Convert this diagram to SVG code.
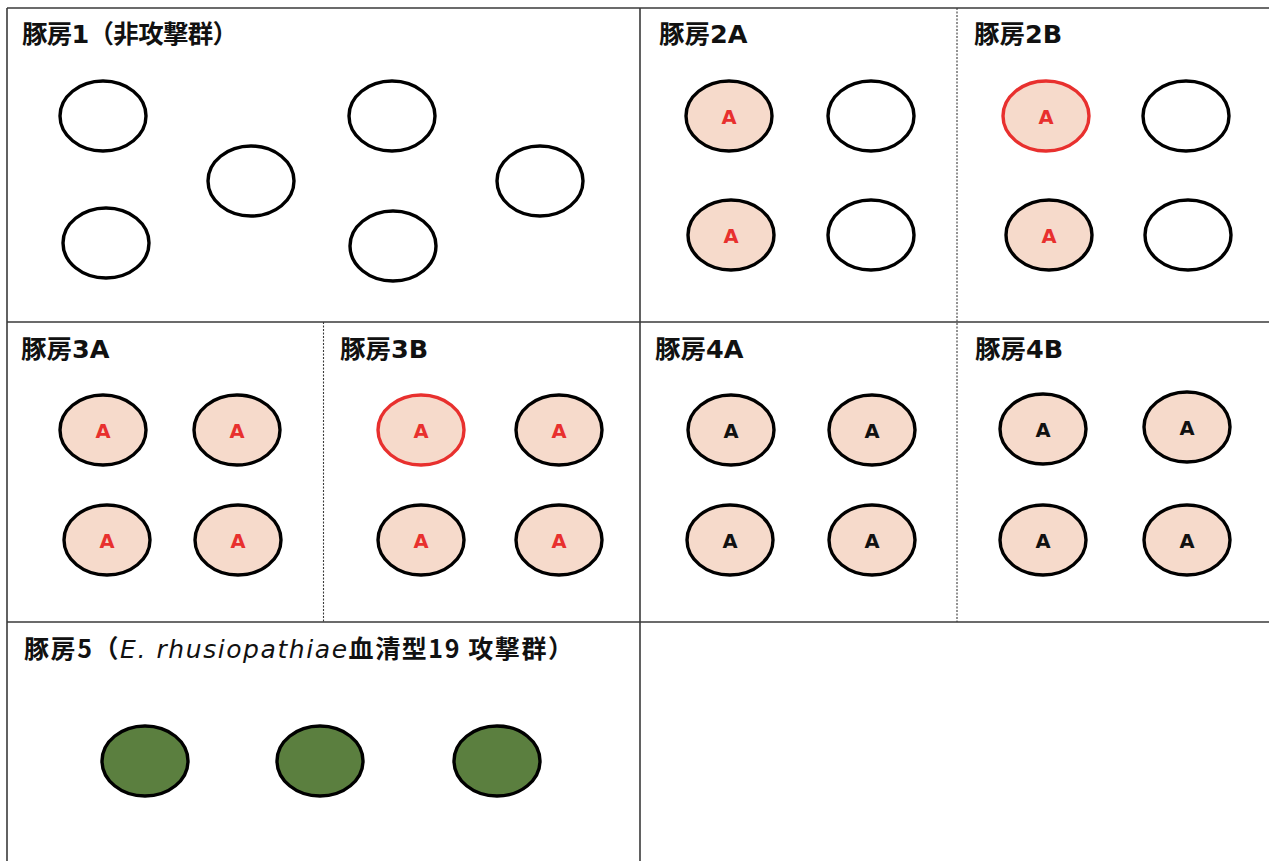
<svg xmlns="http://www.w3.org/2000/svg" width="1269" height="861" viewBox="0 0 1269 861">
<style>
.bg{fill:#ffffff}
.solid{stroke:#3a3a3a;stroke-width:1.6;fill:none}
.dash{stroke:#3a3a3a;stroke-width:1.1;stroke-dasharray:2 1.5;fill:none}
.title{font-family:"DejaVu Sans","Noto Sans CJK JP",sans-serif;font-weight:bold;font-size:25.5px;fill:#111111}
.title5{font-family:"Noto Sans CJK JP","Noto Sans CJK SC",sans-serif;font-weight:bold;font-size:25px;fill:#111111}
.e{stroke:#000000;stroke-width:3.4;fill:#ffffff}
.p{stroke:#000000;stroke-width:3.4;fill:#F6DACB}
.pr{stroke:#E8302E;stroke-width:3.4;fill:#F6DACB}
.g{stroke:#000000;stroke-width:3.4;fill:#5B7F3F}
.ar{font-family:"DejaVu Sans",sans-serif;font-weight:bold;font-size:19.5px;fill:#E8302E;text-anchor:middle}
.ak{font-family:"DejaVu Sans",sans-serif;font-weight:bold;font-size:19.5px;fill:#111111;text-anchor:middle}
</style>
<rect class="bg" x="0" y="0" width="1269" height="861"/>
<g id="grid">
<line class="solid" x1="7" y1="8" x2="1269" y2="8"/>
<line class="solid" x1="7" y1="8" x2="7" y2="861"/>
<line class="solid" x1="7" y1="322" x2="1269" y2="322"/>
<line class="solid" x1="7" y1="622" x2="1269" y2="622"/>
<line class="solid" x1="640" y1="8" x2="640" y2="861"/>
<line class="dash" x1="957" y1="8" x2="957" y2="622"/>
<line class="dash" x1="323.5" y1="322" x2="323.5" y2="622"/>
</g>
<g id="pen1">
<text class="title" x="22" y="43" textLength="216" lengthAdjust="spacing">豚房1（非攻撃群）</text>
<ellipse class="e" cx="103" cy="116" rx="43" ry="35"/>
<ellipse class="e" cx="251" cy="181" rx="43" ry="35"/>
<ellipse class="e" cx="392" cy="116" rx="43" ry="35"/>
<ellipse class="e" cx="540" cy="181" rx="43" ry="35"/>
<ellipse class="e" cx="106" cy="243" rx="43" ry="35"/>
<ellipse class="e" cx="393" cy="246" rx="43" ry="35"/>
</g>
<g id="pen2A">
<text class="title" x="659" y="43">豚房2A</text>
<ellipse class="p" cx="729" cy="116" rx="43" ry="35"/>
<text class="ar" x="729" y="124">A</text>
<ellipse class="e" cx="871" cy="116" rx="43" ry="35"/>
<ellipse class="p" cx="731" cy="235" rx="43" ry="35"/>
<text class="ar" x="731" y="243">A</text>
<ellipse class="e" cx="871" cy="235" rx="43" ry="35"/>
</g>
<g id="pen2B">
<text class="title" x="974" y="43">豚房2B</text>
<ellipse class="pr" cx="1046" cy="116" rx="43" ry="35"/>
<text class="ar" x="1046" y="124">A</text>
<ellipse class="e" cx="1186" cy="116" rx="43" ry="35"/>
<ellipse class="p" cx="1049" cy="235" rx="43" ry="35"/>
<text class="ar" x="1049" y="243">A</text>
<ellipse class="e" cx="1188" cy="235" rx="43" ry="35"/>
</g>
<g id="pen3A">
<text class="title" x="21" y="358">豚房3A</text>
<ellipse class="p" cx="103" cy="430" rx="43" ry="35"/>
<text class="ar" x="103" y="438">A</text>
<ellipse class="p" cx="237" cy="430" rx="43" ry="35"/>
<text class="ar" x="237" y="438">A</text>
<ellipse class="p" cx="107" cy="540" rx="43" ry="35"/>
<text class="ar" x="107" y="548">A</text>
<ellipse class="p" cx="238" cy="540" rx="43" ry="35"/>
<text class="ar" x="238" y="548">A</text>
</g>
<g id="pen3B">
<text class="title" x="340" y="358">豚房3B</text>
<ellipse class="pr" cx="421" cy="430" rx="43" ry="35"/>
<text class="ar" x="421" y="438">A</text>
<ellipse class="p" cx="559" cy="430" rx="43" ry="35"/>
<text class="ar" x="559" y="438">A</text>
<ellipse class="p" cx="421" cy="540" rx="43" ry="35"/>
<text class="ar" x="421" y="548">A</text>
<ellipse class="p" cx="559" cy="540" rx="43" ry="35"/>
<text class="ar" x="559" y="548">A</text>
</g>
<g id="pen4A">
<text class="title" x="655" y="358">豚房4A</text>
<ellipse class="p" cx="731" cy="430" rx="43" ry="35"/>
<text class="ak" x="731" y="438">A</text>
<ellipse class="p" cx="872" cy="430" rx="43" ry="35"/>
<text class="ak" x="872" y="438">A</text>
<ellipse class="p" cx="730" cy="540" rx="43" ry="35"/>
<text class="ak" x="730" y="548">A</text>
<ellipse class="p" cx="872" cy="540" rx="43" ry="35"/>
<text class="ak" x="872" y="548">A</text>
</g>
<g id="pen4B">
<text class="title" x="975" y="358">豚房4B</text>
<ellipse class="p" cx="1043" cy="429" rx="43" ry="35"/>
<text class="ak" x="1043" y="437">A</text>
<ellipse class="p" cx="1187" cy="427" rx="43" ry="35"/>
<text class="ak" x="1187" y="435">A</text>
<ellipse class="p" cx="1043" cy="540" rx="43" ry="35"/>
<text class="ak" x="1043" y="548">A</text>
<ellipse class="p" cx="1187" cy="540" rx="43" ry="35"/>
<text class="ak" x="1187" y="548">A</text>
</g>
<g id="pen5">
<text class="title5" x="24" y="658" textLength="549" lengthAdjust="spacing">豚房5（<tspan font-family="'DejaVu Sans',sans-serif" font-style="italic" font-weight="normal">E. rhusiopathiae</tspan>血清型19 攻撃群）</text>
<ellipse class="g" cx="145" cy="761" rx="43" ry="35"/>
<ellipse class="g" cx="320" cy="761" rx="43" ry="35"/>
<ellipse class="g" cx="497" cy="761" rx="43" ry="35"/>
</g>
</svg>
